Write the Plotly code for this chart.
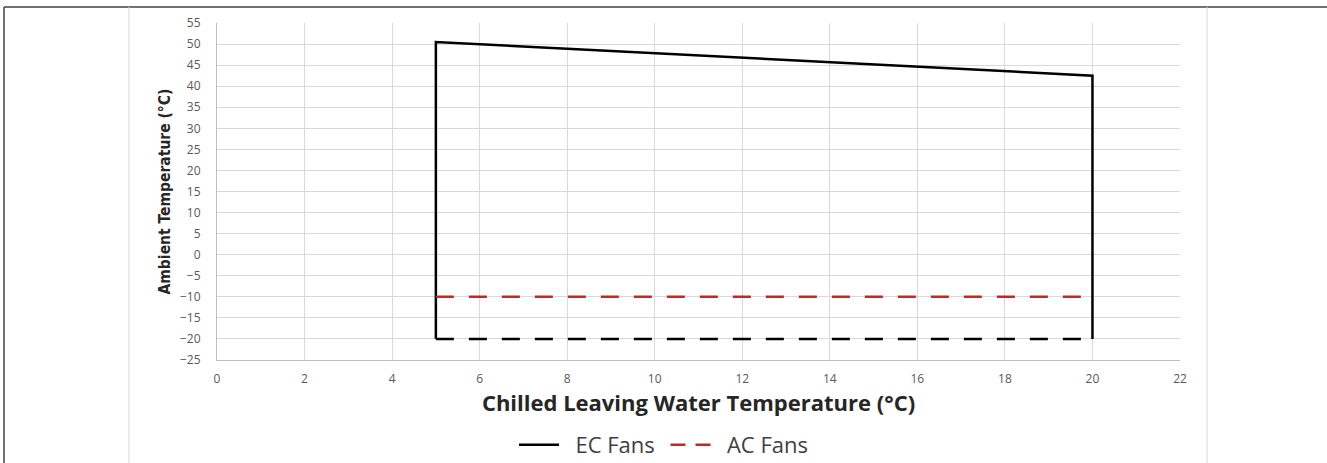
import plotly.graph_objects as go

# EC Fans envelope (solid)
ec_x = [5, 5, 20, 20]
ec_y = [-20, 50.5, 42.5, -20]

# EC Fans lower limit (dashed black)
ec_low_x = [5, 20]
ec_low_y = [-20, -20]

# AC Fans lower limit (dashed red)
ac_x = [5, 20]
ac_y = [-10, -10]

x_ticks = list(range(0, 23, 2))
y_ticks = list(range(-25, 56, 5))

W, H = 1327, 463
L, R, T, B = 217, 147, 23, 103
pw, ph = W - L - R, H - T - B
RED = '#c0282d'
NB = '\u00a0'


def px_x(p):
    return (p - L) / pw


def px_y(p):
    return (H - B - p) / ph


fig = go.Figure()
fig.add_trace(go.Scatter(x=ec_x, y=ec_y, mode='lines', name='EC Fans', showlegend=False,
                         line=dict(color='black', width=2.5)))
fig.add_trace(go.Scatter(x=ac_x, y=ac_y, mode='lines', name='AC Fans', showlegend=False,
                         line=dict(color=RED, width=2.5, dash='18px,15px')))
fig.add_trace(go.Scatter(x=ec_low_x, y=ec_low_y, mode='lines', showlegend=False,
                         line=dict(color='black', width=2.5, dash='18px,15px')))
# legend entries (shorter dash so two dashes fit in the legend swatch)
fig.add_trace(go.Scatter(x=[None], y=[None], mode='lines', name=NB * 2 + 'EC Fans' + NB,
                         line=dict(color='black', width=2.5)))
fig.add_trace(go.Scatter(x=[None], y=[None], mode='lines', name=NB * 2 + 'AC Fans',
                         line=dict(color=RED, width=2.5, dash='15px,10px')))

grid = '#d9d9d9'
fig.update_xaxes(range=[0, 22], tickvals=x_ticks, showgrid=True, gridcolor=grid,
                 gridwidth=1, zeroline=False, showline=True, linecolor='#bfbfbf',
                 ticks='', ticklabelstandoff=8,
                 tickfont=dict(family='Open Sans', size=12, color='#595959'),
                 title=dict(text='<b>Chilled Leaving Water Temperature (°C)</b>',
                            font=dict(family='Open Sans', size=22, color='#262626'),
                            standoff=8))
fig.update_yaxes(range=[-25, 55], tickvals=y_ticks, showgrid=True, gridcolor=grid,
                 gridwidth=1, zeroline=False, showline=True, linecolor='#bfbfbf',
                 ticks='', ticklabelstandoff=13,
                 tickfont=dict(family='Open Sans', size=12, color='#595959'),
                 title=dict(text='<b>Ambient Temperature (°C)</b>',
                            font=dict(family='DejaVu Sans Condensed, Liberation Sans Narrow, sans-serif',
                                      size=15.5, color='#262626'),
                            standoff=5))

# outer frame and side rules
shapes = [
    dict(type='line', xref='paper', yref='paper', x0=px_x(4), x1=px_x(W), y0=px_y(7), y1=px_y(7),
         line=dict(color='#404040', width=1.5)),
    dict(type='line', xref='paper', yref='paper', x0=px_x(4), x1=px_x(4), y0=px_y(7), y1=px_y(H),
         line=dict(color='#404040', width=1.5)),
    dict(type='line', xref='paper', yref='paper', x0=px_x(129), x1=px_x(129), y0=px_y(7), y1=px_y(H),
         line=dict(color='#d9d9d9', width=1)),
    dict(type='line', xref='paper', yref='paper', x0=px_x(1207), x1=px_x(1207), y0=px_y(7), y1=px_y(H),
         line=dict(color='#d9d9d9', width=1)),
]

fig.update_layout(
    width=W, height=H,
    margin=dict(l=L, r=R, t=T, b=B, autoexpand=False),
    paper_bgcolor='white', plot_bgcolor='white',
    shapes=shapes,
    showlegend=True,
    legend=dict(orientation='h', xref='container', yref='container', x=0.5, y=0.039,
                xanchor='center', yanchor='middle', itemwidth=40,
                font=dict(family='Open Sans', size=22, color='#404040')),
)

fig.write_html("out.html", config={'displayModeBar': False},
               post_script="document.body.style.margin='0px';")
